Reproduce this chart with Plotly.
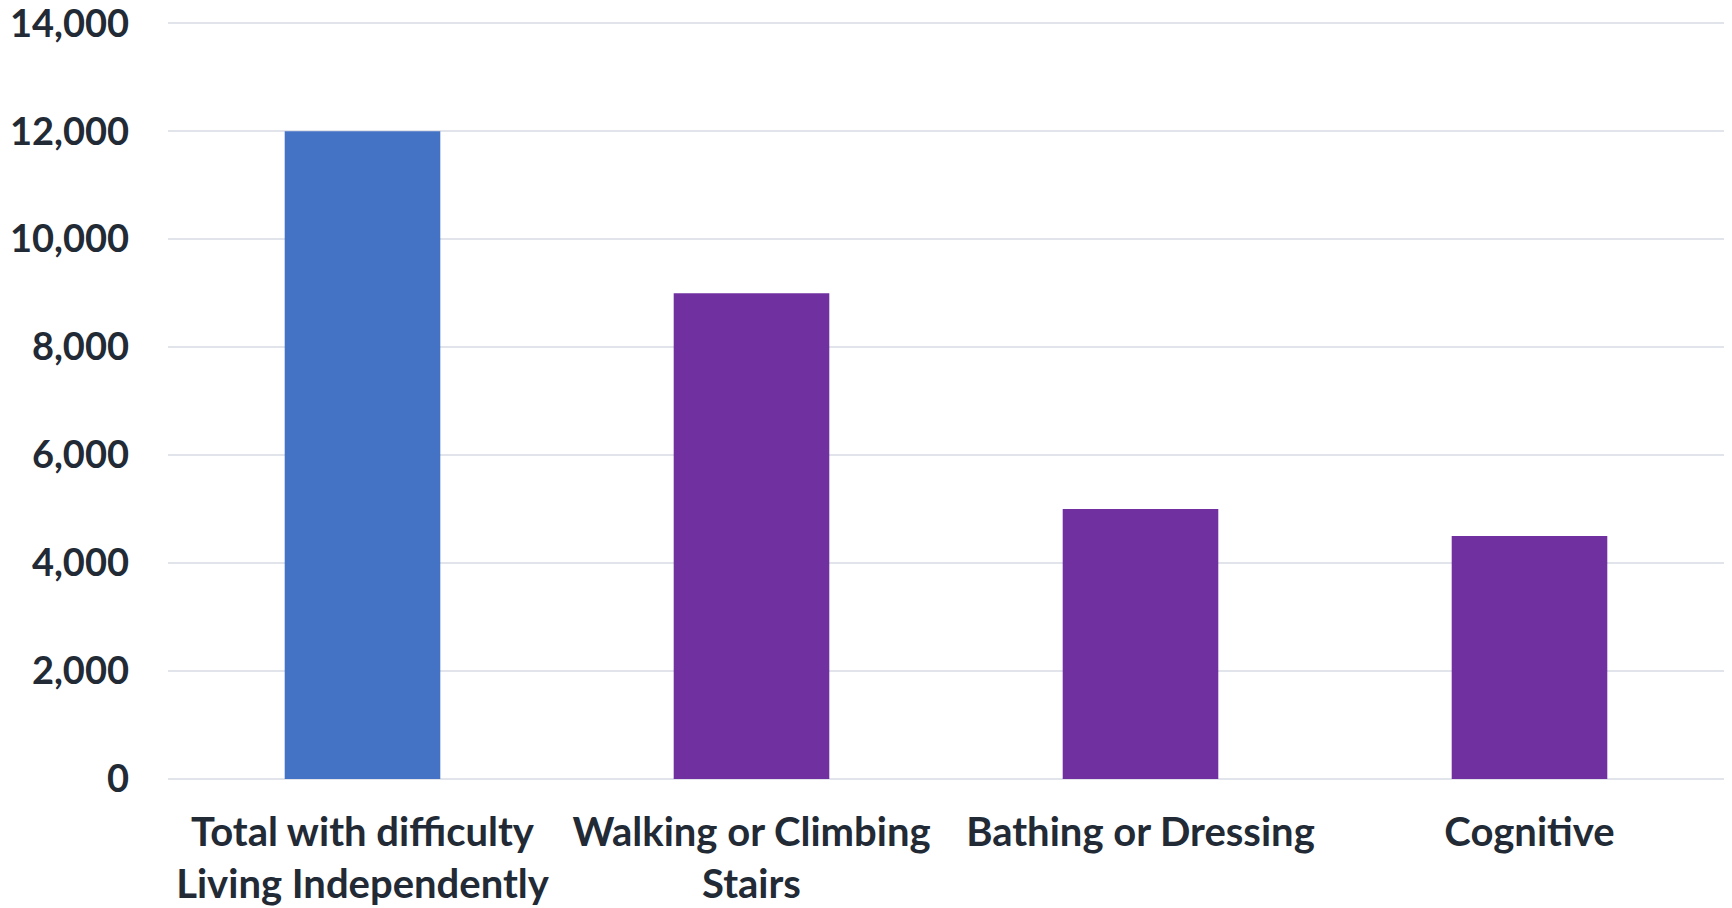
import plotly.graph_objects as go

# Categories and counts
categories = [
    "Total with difficulty<br>Living Independently",
    "Walking or Climbing<br>Stairs",
    "Bathing or Dressing",
    "Cognitive",
]
values = [12000, 9000, 5000, 4500]
bar_colors = ["#4472C4", "#7030A0", "#7030A0", "#7030A0"]
y_ticks = [0, 2000, 4000, 6000, 8000, 10000, 12000, 14000]

text_color = "#222A35"
grid_color = "#E1E4EA"

fig = go.Figure(
    go.Bar(
        x=categories,
        y=values,
        marker=dict(color=bar_colors, line=dict(width=0)),
    )
)

fig.update_layout(
    width=1732,
    height=908,
    margin=dict(l=168, r=8, t=19.5, b=129, autoexpand=False),
    paper_bgcolor="white",
    plot_bgcolor="white",
    bargap=0.6,
    showlegend=False,
    font=dict(family="Lato", color=text_color),
)

fig.update_xaxes(
    tickfont=dict(size=40, weight="bold", color=text_color),
    showgrid=False,
    showline=False,
    ticks="",
    ticklabelstandoff=26,
    automargin=False,
)

fig.update_yaxes(
    range=[0, 14060],
    tickvals=y_ticks,
    tickformat=",d",
    tickfont=dict(size=38, weight="bold", color=text_color),
    ticklabeloverflow="allow",
    showgrid=True,
    gridcolor=grid_color,
    gridwidth=2,
    zeroline=True,
    zerolinecolor=grid_color,
    zerolinewidth=2,
    showline=False,
    ticks="",
    ticklabelstandoff=38,
    automargin=False,
)

fig.write_html("out.html")
